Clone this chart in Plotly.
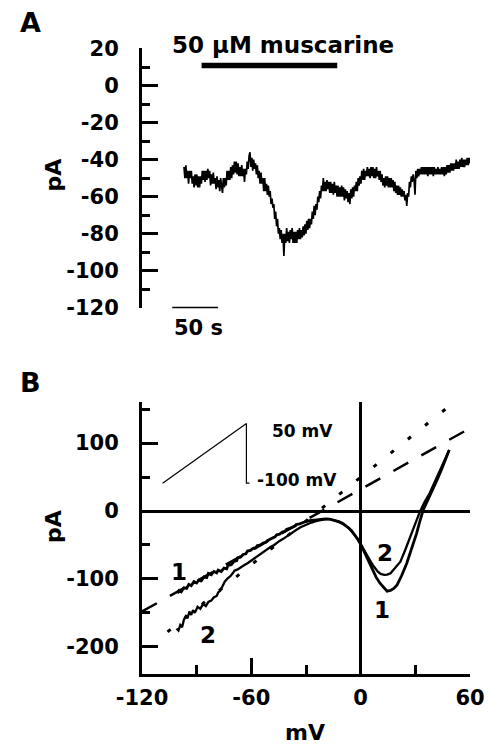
import numpy as np
import plotly.graph_objects as go

# ---------------- Panel A data ----------------
trace_dt = 1.0  # s between samples
trace_pA = [
    -44, -50, -43, -50, -46, -53, -46, -50, -46, -53,
    -49, -55, -48, -54, -48, -55, -49, -55, -49, -53,
    -46, -51, -46, -52, -46, -51, -45, -50, -46, -54,
    -48, -53, -47, -53, -50, -56, -49, -55, -51, -57,
    -50, -56, -58, -50, -55, -50, -54, -46, -51, -46,
    -51, -44, -50, -43, -48, -41, -47, -41, -48, -42,
    -49, -44, -49, -43, -49, -45, -52, -45, -48, -41,
    -45, -38, -36, -44, -39, -46, -40, -45, -42, -48,
    -43, -50, -46, -53, -47, -53, -50, -57, -50, -57,
    -53, -59, -54, -60, -57, -64, -61, -66, -64, -72,
    -68, -76, -72, -80, -77, -83, -78, -85, -80, -92,
    -80, -85, -77, -84, -79, -85, -78, -83, -77, -85,
    -79, -85, -79, -85, -78, -83, -77, -83, -78, -82,
    -76, -81, -75, -80, -73, -78, -72, -77, -72, -75,
    -68, -72, -65, -70, -64, -67, -60, -63, -57, -61,
    -54, -57, -50, -57, -52, -57, -51, -56, -52, -58,
    -52, -58, -53, -59, -52, -58, -54, -60, -54, -60,
    -55, -60, -54, -60, -55, -62, -56, -61, -57, -63,
    -58, -64, -56, -61, -55, -60, -54, -57, -52, -57,
    -50, -54, -49, -53, -46, -51, -45, -51, -46, -49,
    -44, -49, -45, -50, -44, -49, -44, -50, -45, -50,
    -44, -49, -46, -51, -46, -52, -48, -54, -50, -55,
    -49, -54, -49, -55, -50, -55, -50, -55, -51, -57,
    -52, -58, -54, -59, -54, -59, -55, -60, -56, -60,
    -57, -62, -59, -65, -58, -60, -52, -55, -49, -52,
    -48, -51, -59, -46, -50, -45, -49, -45, -48, -44,
    -48, -44, -48, -44, -48, -44, -49, -44, -48, -44,
    -48, -44, -49, -44, -48, -45, -48, -44, -48, -45,
    -48, -44, -48, -44, -49, -44, -48, -43, -47, -43,
    -47, -42, -46, -42, -46, -42, -45, -40, -45, -41,
    -45, -40, -44, -39, -44, -40, -44, -40, -43, -39,
    -43, -39, -42,
]
trace_t = np.arange(len(trace_pA)) * trace_dt

a_tickvals = [20, 0, -20, -40, -60, -80, -100, -120]
a_ticktext = ["20", "0", "-20", "-40", "-60", "-80", "-100", "-120"]

drug_bar_t = [19.2, 167.2]
drug_bar_pA = [10.8, 10.8]
scale_bar_t = [-12.8, 37.2]
scale_bar_pA = [-120.2, -120.2]

# ---------------- Panel B data ----------------
b_xtickvals = [-120, -60, 0, 60]
b_xticktext = ["-120", "-60", "0", "60"]
b_ytickvals = [100, 0, -100, -200]
b_yticktext = ["100", "0", "-100", "-200"]

c1_mV = [-100.5, -99.6, -98.5, -97, -95.5, -94.3, -93, -91.5, -90, -88.9, -87.5, -86, -84.5, -83.6,
         -82, -80.5, -79, -78.2, -76.5, -75, -73.5, -72.8, -71, -69.5, -68, -67.5, -66, -64.5, -63,
         -62.1, -60.5, -59, -57.5, -56.8, -55, -53.5, -52, -51.4, -50, -48.5, -47, -46.1, -44.5, -43,
         -41.5, -40.7, -39, -37.5, -36, -35.4, -33.5, -32, -30, -28, -26, -24.6, -22, -19.3, -17, -15,
         -13.9, -12, -10, -8.6, -6.5, -5, -3.2, -1.5, 0.4, 2, 3.9, 6, 8.4, 10.5, 12.9, 14.5, 16.4,
         18.2, 20, 22.5, 25.3, 28, 30.7, 32.5, 34.3, 37, 39.6, 42, 44.5, 46.5, 48.6]
c1_pA = [-121, -117, -119, -113, -114, -108, -110, -104, -106, -102, -103, -97, -98, -92,
         -94, -89, -91, -87, -89, -84, -85, -80, -79, -74, -73, -69, -68, -64, -63,
         -59, -58, -55, -54, -51, -50, -47, -46, -44, -42, -40, -38, -35, -34, -31,
         -30, -27, -26, -24, -22, -20, -19, -17, -15.5, -14, -13.5, -12.5, -12, -11.5, -11.8, -13,
         -14, -15.5, -18, -20.5, -25, -29, -35, -42, -51, -60, -72, -85, -97, -106, -113.7, -118, -117,
         -114, -108.8, -95, -77, -56, -33, -15, 1.5, 17, 31, 46, 62, 76, 90]

c2_mV = [-101, -100, -99, -98, -97, -96, -95, -94, -93, -92, -91, -89.5, -88, -86.5, -85, -83.6,
         -82, -80.5, -79, -78.2, -77, -75.8, -74.6, -73, -71.5, -70, -69.3, -67.5, -66, -64, -62.1,
         -60.5, -59, -56.8, -55, -53, -51.4, -49.5, -48, -46.1, -44.5, -42.5, -40.7, -39, -37, -35.4,
         -33, -30, -27, -24.6, -21.5, -19.3, -17, -15, -13.9, -12, -10, -8.6, -6.5, -5, -3.2, -1.5,
         0.4, 2, 3.9, 6.5, 9.3, 11, 12.9, 14.5, 16.4, 19, 21.8, 24.5, 27.2, 30, 32.5, 35, 37.9,
         40.5, 43, 45.5, 48.6]
c2_pA = [-173, -176, -168, -171, -160, -155, -158, -148, -153, -146, -150, -141, -144, -137, -140, -134,
         -132, -127, -125, -120, -117, -110, -104, -99, -96, -91, -88, -86, -83, -80, -77,
         -74, -70, -67, -63, -60, -57, -53, -51, -47, -44, -41, -37.5, -34, -31, -28,
         -24, -20, -17, -15, -13, -12, -12, -13, -14.3, -16, -18.5, -21, -25.5, -29.5, -35.5, -42,
         -50, -58, -67, -79, -89, -92.5, -94, -93.5, -91.6, -84, -74.6, -57, -37.8, -18, -1, 13, 26.5,
         42, 57, 72, 90]

dotted_mV = [-106, 47]
dotted_pA = [-178, 151]
dashed_mV = [-120, 60]
dashed_pA = [-148, 122]

ramp_mV = [-108.7, -62.7, -62.7, -61.0]
ramp_pA = [41, 129, 41, 41]

FONT = "DejaVu Sans"
BLACK = "#000000"

fig = go.Figure()

# Panel A
fig.add_trace(go.Scatter(x=trace_t, y=trace_pA, mode="lines",
                         line=dict(color=BLACK, width=1.7), xaxis="x", yaxis="y"))
fig.add_trace(go.Scatter(x=drug_bar_t, y=drug_bar_pA, mode="lines",
                         line=dict(color=BLACK, width=5.5), xaxis="x", yaxis="y", cliponaxis=False))
fig.add_trace(go.Scatter(x=scale_bar_t, y=scale_bar_pA, mode="lines",
                         line=dict(color=BLACK, width=2.5), xaxis="x", yaxis="y", cliponaxis=False))

# Panel B
fig.add_trace(go.Scatter(x=dashed_mV, y=dashed_pA, mode="lines",
                         line=dict(color=BLACK, width=2.5, dash="17px,15px"), xaxis="x2", yaxis="y2"))
fig.add_trace(go.Scatter(x=dotted_mV, y=dotted_pA, mode="lines",
                         line=dict(color=BLACK, width=3, dash="4px,18px"), xaxis="x2", yaxis="y2"))
fig.add_trace(go.Scatter(x=c1_mV, y=c1_pA, mode="lines",
                         line=dict(color=BLACK, width=2.8), xaxis="x2", yaxis="y2"))
fig.add_trace(go.Scatter(x=c2_mV, y=c2_pA, mode="lines",
                         line=dict(color=BLACK, width=2.3), xaxis="x2", yaxis="y2"))
fig.add_trace(go.Scatter(x=ramp_mV, y=ramp_pA, mode="lines",
                         line=dict(color=BLACK, width=1.2), xaxis="x2", yaxis="y2"))

tickfont = dict(family=FONT, size=21, color=BLACK, weight="bold")

fig.update_layout(
    width=497, height=744,
    margin=dict(l=142, r=19, t=48, b=70),
    paper_bgcolor="white", plot_bgcolor="white",
    showlegend=False, hovermode=False,
    font=dict(family=FONT, color=BLACK),
    xaxis=dict(domain=[0, 1], anchor="y", range=[-45.8, 312], visible=False),
    yaxis=dict(domain=[0.5842, 1], anchor="x", range=[-120.3, 20.3],
               showline=True, linewidth=3, linecolor=BLACK,
               ticks="inside", ticklen=16, tickwidth=3, tickcolor=BLACK,
               tickmode="array", tickvals=a_tickvals, ticktext=a_ticktext,
               tickfont=tickfont, ticklabelstandoff=16, ticklabeloverflow="allow",
               minor=dict(tickmode="linear", dtick=20, tick0=10, ticks="inside", ticklen=8,
                          tickwidth=3, tickcolor=BLACK),
               showgrid=False, zeroline=False),
    xaxis2=dict(domain=[0, 1], anchor="y2", range=[-120, 60],
                showline=True, linewidth=3, linecolor=BLACK,
                ticks="inside", ticklen=16, tickwidth=3, tickcolor=BLACK,
                tickmode="array", tickvals=b_xtickvals, ticktext=b_xticktext,
                tickfont=tickfont, ticklabelstandoff=3, ticklabeloverflow="allow",
                minor=dict(tickmode="linear", dtick=30, tick0=0, ticks="inside", ticklen=9,
                           tickwidth=3, tickcolor=BLACK),
                showgrid=False, zeroline=True, zerolinewidth=2.5, zerolinecolor=BLACK),
    yaxis2=dict(domain=[0, 0.435], anchor="x2", range=[-240, 161],
                showline=True, linewidth=3, linecolor=BLACK,
                ticks="inside", ticklen=16, tickwidth=3, tickcolor=BLACK,
                tickmode="array", tickvals=b_ytickvals, ticktext=b_yticktext,
                tickfont=tickfont, ticklabelstandoff=16, ticklabeloverflow="allow",
                minor=dict(tickmode="linear", dtick=50, tick0=0, ticks="inside", ticklen=8,
                           tickwidth=3, tickcolor=BLACK),
                showgrid=False, zeroline=True, zerolinewidth=2.5, zerolinecolor=BLACK),
)

def bold(size):
    return dict(family=FONT, size=size, color=BLACK, weight="bold")

ann = []
# Panel letters
ann.append(dict(text="A", x=-0.341, y=1.04, xref="paper", yref="paper", xanchor="center",
                yanchor="middle", showarrow=False, font=bold(27)))
ann.append(dict(text="B", x=-0.341, y=0.465, xref="paper", yref="paper", xanchor="center",
                yanchor="middle", showarrow=False, font=bold(27)))
# Axis titles
ann.append(dict(text="pA", x=-0.27, y=-48.4, xref="paper", yref="y", textangle=-90,
                xanchor="center", yanchor="middle", showarrow=False, font=bold(22)))
ann.append(dict(text="pA", x=-0.27, y=-23, xref="paper", yref="y2", textangle=-90,
                xanchor="center", yanchor="middle", showarrow=False, font=bold(22)))
ann.append(dict(text="mV", x=0.497, y=-0.0927, xref="paper", yref="paper",
                xanchor="center", yanchor="middle", showarrow=False, font=bold(22)))
# Panel A texts
ann.append(dict(text="50 µM muscarine", x=0.0863, y=1.0048, xref="paper", yref="paper",
                xanchor="left", yanchor="middle", showarrow=False, font=bold(23)))
ann.append(dict(text="50 s", x=0.0923, y=0.5527, xref="paper", yref="paper",
                xanchor="left", yanchor="middle", showarrow=False, font=bold(21)))
# Panel B texts
ann.append(dict(text="50 mV", x=-49.8, y=117.6, xref="x2", yref="y2",
                xanchor="left", yanchor="middle", showarrow=False, font=bold(17)))
ann.append(dict(text="-100 mV", x=-57.8, y=45.6, xref="x2", yref="y2",
                xanchor="left", yanchor="middle", showarrow=False, font=bold(17)))
for txt, vx, vy in [("1", -99.6, -89.7), ("2", -83.6, -182), ("2", 13.4, -62.5), ("1", 11.8, -145.6)]:
    ann.append(dict(text=txt, x=vx, y=vy, xref="x2", yref="y2", xanchor="center",
                    yanchor="middle", showarrow=False, font=bold(23)))

fig.update_layout(annotations=ann)

# the page body's default 8 px margin would push the 497 x 744 figure off the window
fig.write_html(
    "out.html",
    config={"displayModeBar": False},
    post_script="document.body.style.margin='0px';",
)
